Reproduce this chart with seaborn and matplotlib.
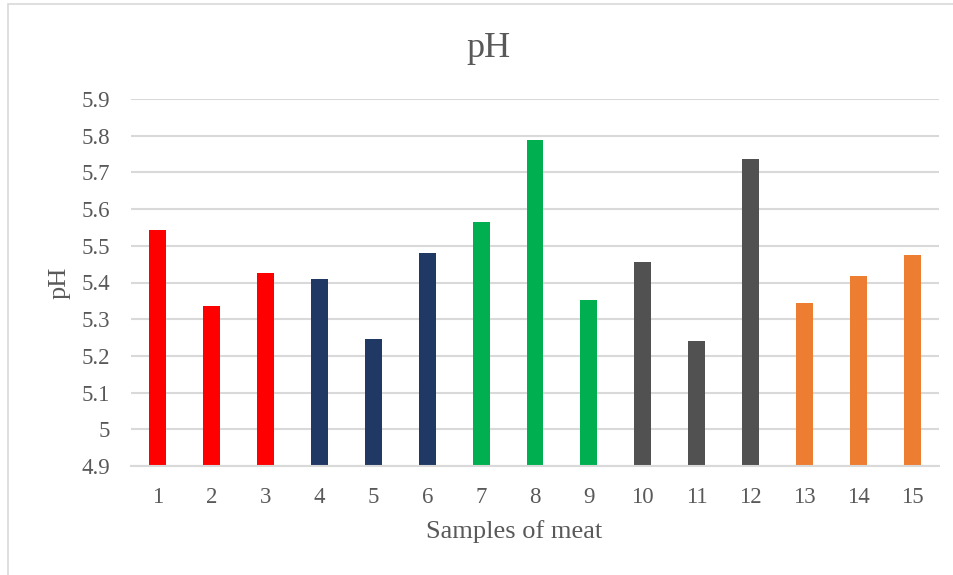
import matplotlib
matplotlib.use("Agg")
import matplotlib.pyplot as plt
import seaborn as sns
import pandas as pd
from matplotlib.patches import Rectangle

samples = [str(i) for i in range(1, 16)]
ph_values = [5.543, 5.335, 5.425, 5.409, 5.246, 5.480, 5.565, 5.788, 5.352,
             5.456, 5.240, 5.736, 5.343, 5.419, 5.476]
group_colors = ["#FF0000"] * 3 + ["#203864"] * 3 + ["#00B050"] * 3 + ["#515151"] * 3 + ["#ED7D31"] * 3
y_ticks = [4.9, 5.0, 5.1, 5.2, 5.3, 5.4, 5.5, 5.6, 5.7, 5.8, 5.9]
y_tick_labels = ["4.9", "5", "5.1", "5.2", "5.3", "5.4", "5.5", "5.6", "5.7", "5.8", "5.9"]

df = pd.DataFrame({"sample": samples, "pH": ph_values})

sns.set_theme(style="white")
plt.rcParams["font.family"] = ["Liberation Serif", "DejaVu Serif"]

W, H = 954, 575
fig = plt.figure(figsize=(W / 100, H / 100), dpi=100)
ax = fig.add_axes([131 / W, 1 - 466 / H, (939 - 131) / W, (466 - 99) / H])

sns.barplot(data=df, x="sample", y="pH", hue="sample", palette=group_colors,
            legend=False, width=0.315, saturation=1, ax=ax)
# bars start at the axis baseline 4.9
for p in ax.patches:
    h = p.get_height()
    p.set_y(4.9)
    p.set_height(h - 4.9)
    p.set_linewidth(0)

ax.set_ylim(4.9, 5.9)
ax.set_xlim(-0.5, 14.5)
ax.set_yticks(y_ticks)
ax.set_yticklabels(y_tick_labels)
ax.yaxis.grid(True, color="#D9D9D9", linewidth=1.5)
ax.set_axisbelow(True)
for s in ["top", "right", "left"]:
    ax.spines[s].set_visible(False)
ax.spines["bottom"].set_color("#D9D9D9")
ax.spines["bottom"].set_linewidth(1.5)

txt = "#595959"
ax.tick_params(axis="both", length=0, labelsize=16.5, labelcolor=txt)
ax.tick_params(axis="y", pad=15)
ax.tick_params(axis="x", pad=15)
ax.set_xlabel("")
ax.set_ylabel("")

fig.text(488 / W, 1 - 57 / H, "pH", fontsize=26, color=txt, ha="center", va="baseline")
fig.text(514 / W, 1 - 538 / H, "Samples of meat", fontsize=19, color=txt, ha="center", va="baseline")
fig.text(60 / W, 1 - 283 / H, "pH", fontsize=19, color=txt, ha="center", va="center", rotation=90)

fig.patches.append(Rectangle((8 / W, -0.1), 1.2, 1 - 3.5 / H + 0.1, transform=fig.transFigure,
                             fill=False, edgecolor="#D9D9D9", linewidth=1.2))

fig.savefig("out.png", dpi=100, facecolor="white")
